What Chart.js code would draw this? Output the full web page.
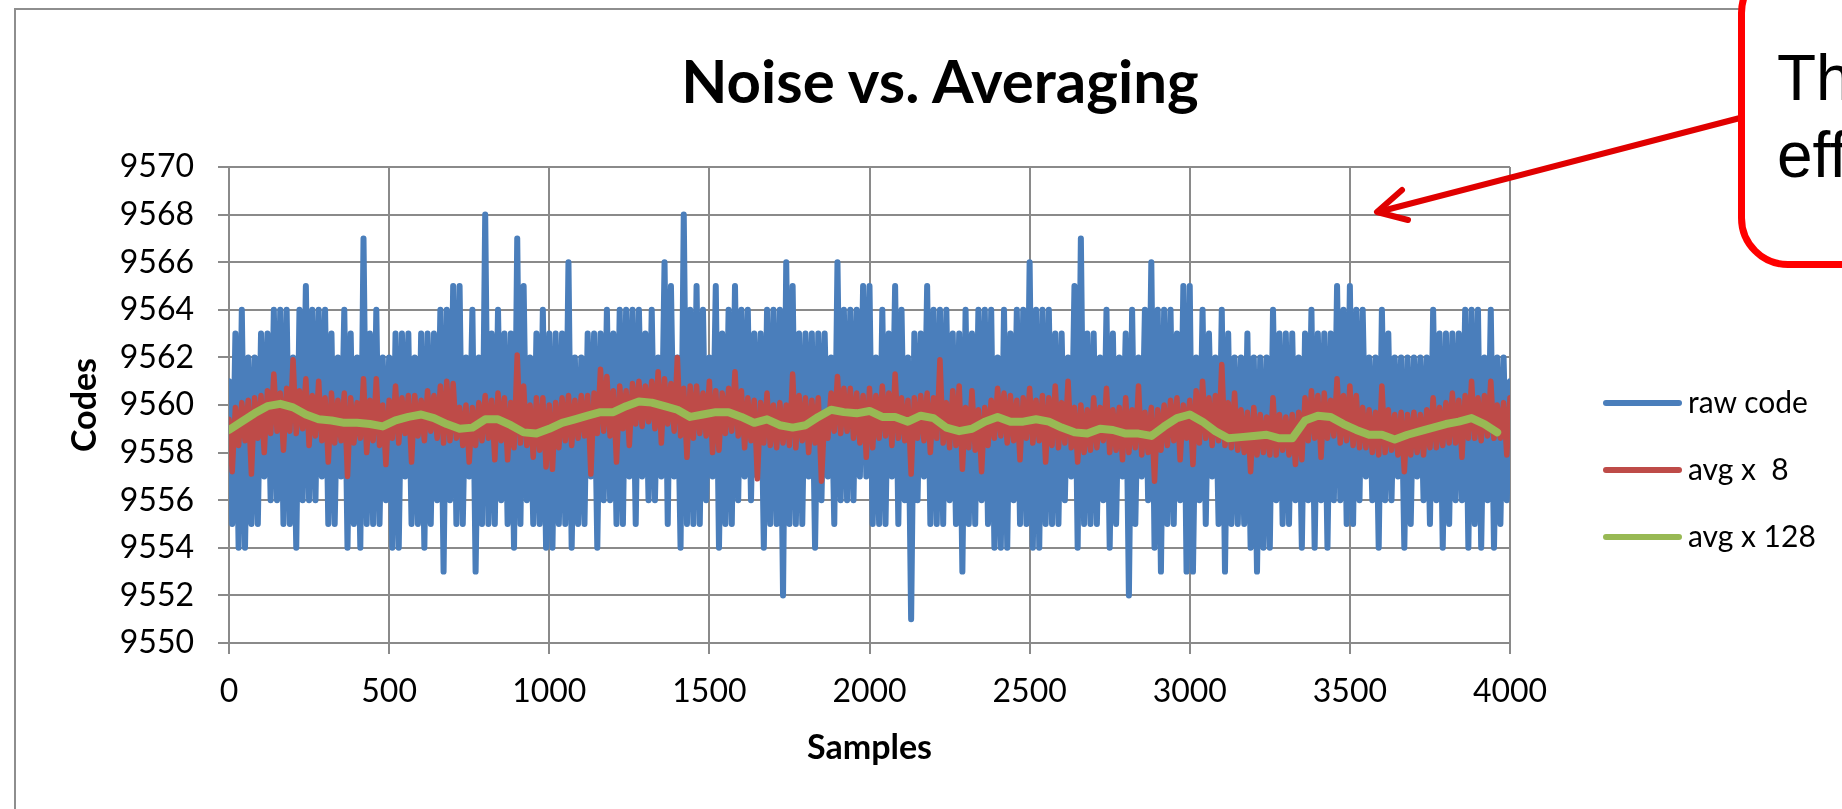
<!DOCTYPE html>
<html>
<head>
<meta charset="utf-8">
<title>Noise vs. Averaging</title>
<script src="https://cdn.jsdelivr.net/npm/chart.js@4.4.1/dist/chart.umd.min.js"></script>
<style>
  html, body { margin: 0; padding: 0; background: #fff; overflow: hidden; }
  #page { position: relative; width: 1842px; height: 809px; overflow: hidden; font-family: Lato, sans-serif; }
  #frame { position: absolute; left: 14px; top: 8px; width: 2000px; height: 1000px; border: 2px solid #8e8e8e; }
  #chart { position: absolute; left: 0; top: 0; }
  #arrow { position: absolute; left: 0; top: 0; }
  #title { position: absolute; left: 0; top: 50px; width: 1880px; text-align: center;
           font: bold 60px Lato, sans-serif; line-height: 1; color: #000; }
  .leg-line { position: absolute; left: 1603px; width: 79px; height: 6px; border-radius: 3px; }
  .leg-text { position: absolute; left: 1688px; font: 30px Lato, sans-serif; line-height: 1; white-space: pre; color: #000; }
  #callout { position: absolute; left: 1738px; top: -37px; width: 400px; height: 305px; box-sizing: border-box;
             border: 7px solid #ff0000; border-radius: 50px; background: #fff; }
  #callout-text { position: absolute; left: 1777px; top: 40px; font: 64px "Liberation Sans", Arial, sans-serif;
                  line-height: 77px; color: #000; white-space: pre; }
</style>
</head>
<body>
<div id="page">
  <div id="frame"></div>
  <canvas id="chart" width="1842" height="809"></canvas>
  <svg id="arrow" width="1842" height="809">
    <g stroke="#e00000" stroke-width="6" stroke-linecap="round" stroke-linejoin="round" fill="none">
      <line x1="1740" y1="118" x2="1378" y2="212"/>
      <polyline points="1402,190 1377,212 1408,220"/>
    </g>
  </svg>
  <div id="callout"></div>
  <div id="callout-text">Th
eff</div>
  <div id="title">Noise vs. Averaging</div>
  <div class="leg-line" style="top:400px;background:#4a7ebb"></div>
  <div class="leg-text" style="top:386px">raw code</div>
  <div class="leg-line" style="top:467px;background:#be4b48"></div>
  <div class="leg-text" style="top:453px">avg x  8</div>
  <div class="leg-line" style="top:534px;background:#98b954"></div>
  <div class="leg-text" style="top:520px">avg x 128</div>
</div>
<script>
// raw code, one reading every 10 samples
const rawStep = 10;
const rawCode = [
  9561,9555,9563,9554,9564,9554,9562,9555,9562,9555,
  9563,9557,9563,9556,9564,9556,9564,9555,9564,9555,
  9562,9554,9564,9556,9565,9556,9564,9556,9564,9557,
  9564,9555,9563,9555,9562,9557,9564,9554,9563,9555,
  9562,9554,9567,9555,9563,9555,9564,9555,9562,9556,
  9562,9554,9563,9554,9563,9557,9563,9555,9562,9555,
  9563,9554,9563,9555,9563,9556,9564,9553,9564,9556,
  9565,9555,9565,9555,9562,9557,9564,9553,9562,9555,
  9568,9555,9563,9555,9564,9556,9563,9555,9563,9554,
  9567,9555,9565,9556,9562,9555,9563,9555,9564,9554,
  9563,9554,9563,9555,9563,9555,9566,9554,9562,9555,
  9562,9555,9563,9557,9563,9554,9563,9556,9564,9556,
  9563,9555,9564,9555,9564,9557,9564,9555,9564,9557,
  9563,9556,9564,9556,9562,9557,9566,9555,9565,9557,
  9562,9554,9568,9555,9564,9555,9565,9555,9564,9556,
  9562,9557,9565,9554,9563,9555,9564,9555,9565,9556,
  9564,9557,9564,9556,9563,9557,9563,9554,9564,9555,
  9564,9555,9564,9552,9566,9555,9565,9555,9563,9555,
  9563,9557,9563,9554,9563,9556,9563,9557,9562,9555,
  9566,9556,9564,9556,9564,9556,9564,9557,9565,9557,
  9565,9555,9562,9555,9564,9555,9563,9557,9565,9555,
  9564,9556,9562,9551,9563,9556,9563,9557,9565,9555,
  9564,9555,9564,9555,9564,9556,9563,9555,9563,9553,
  9564,9555,9563,9555,9564,9556,9564,9555,9564,9554,
  9562,9554,9564,9554,9563,9556,9564,9555,9564,9555,
  9566,9554,9564,9554,9564,9555,9564,9555,9563,9555,
  9563,9556,9562,9557,9565,9554,9567,9555,9563,9555,
  9563,9555,9562,9556,9564,9554,9563,9555,9562,9557,
  9563,9552,9564,9555,9562,9557,9564,9556,9566,9554,
  9564,9553,9564,9555,9564,9555,9563,9556,9565,9553,
  9565,9553,9562,9556,9564,9555,9563,9557,9562,9555,
  9564,9553,9563,9555,9562,9555,9562,9555,9563,9554,
  9562,9553,9562,9554,9562,9554,9564,9556,9563,9555,
  9563,9555,9563,9556,9562,9554,9563,9556,9564,9554,
  9563,9556,9563,9554,9563,9556,9565,9556,9564,9555,
  9565,9555,9564,9556,9564,9557,9562,9556,9562,9554,
  9564,9556,9563,9556,9562,9557,9562,9554,9562,9555,
  9562,9557,9562,9556,9562,9555,9564,9556,9563,9554,
  9563,9555,9563,9556,9563,9556,9564,9554,9564,9555,
  9564,9554,9562,9556,9564,9554,9562,9555,9562,9556,
  9561
];

// running average of 8, same sample spacing
const avg8 = [
  9559.4,9557.2,9559.9,9558.3,9560.1,9558.5,9560.2,9557.1,9560.3,9558.6,
  9560.4,9558.0,9560.6,9558.8,9561.3,9558.9,9560.5,9558.1,9560.7,9558.9,
  9561.9,9558.8,9560.6,9559.0,9561.1,9558.3,9560.4,9558.7,9561.0,9558.5,
  9560.3,9557.6,9560.5,9558.4,9560.2,9558.5,9560.5,9557.0,9560.3,9558.4,
  9560.1,9558.6,9561.1,9558.0,9560.2,9558.5,9561.1,9558.3,9560.0,9557.5,
  9560.2,9558.6,9560.8,9558.4,9560.3,9558.8,9560.4,9557.6,9560.4,9558.7,
  9560.2,9558.5,9560.6,9558.9,9560.4,9558.6,9560.8,9558.4,9561.0,9558.5,
  9560.9,9558.6,9559.9,9558.3,9560.0,9557.6,9559.9,9558.3,9560.1,9558.5,
  9560.4,9558.6,9560.2,9557.7,9560.5,9558.5,9560.3,9557.7,9560.1,9558.2,
  9562.1,9558.4,9560.8,9558.3,9560.0,9557.8,9560.3,9558.1,9560.3,9557.4,
  9560.0,9557.3,9560.1,9558.2,9560.3,9558.5,9560.4,9558.3,9560.2,9558.6,
  9560.4,9558.7,9560.4,9557.1,9560.5,9558.8,9561.5,9558.9,9561.2,9558.7,
  9560.6,9557.6,9560.8,9559.0,9560.6,9558.3,9560.9,9559.2,9561.0,9559.1,
  9560.8,9559.3,9561.0,9559.0,9561.4,9558.4,9561.1,9559.2,9560.9,9558.9,
  9562.0,9558.7,9560.7,9557.8,9560.8,9558.6,9560.8,9558.8,9560.5,9558.7,
  9561.0,9558.0,9560.6,9558.1,9560.5,9558.8,9560.7,9558.9,9561.4,9558.7,
  9560.6,9558.2,9560.3,9558.5,9560.2,9556.9,9560.1,9558.4,9560.5,9558.3,
  9560.0,9558.2,9560.1,9558.4,9560.0,9558.3,9561.3,9558.2,9560.4,9558.5,
  9560.3,9558.0,9560.2,9558.4,9560.3,9556.8,9559.6,9558.6,9560.5,9558.9,
  9561.2,9558.8,9560.7,9558.9,9560.7,9558.6,9560.5,9558.4,9560.4,9557.8,
  9560.7,9558.2,9560.4,9558.6,9560.8,9558.7,9560.5,9558.3,9561.3,9558.6,
  9560.3,9558.5,9560.2,9557.1,9560.3,9558.6,9560.4,9558.5,9560.5,9558.0,
  9560.3,9558.6,9561.9,9558.4,9560.1,9558.2,9560.6,9558.3,9560.8,9557.3,
  9559.9,9558.2,9560.6,9558.1,9559.8,9557.2,9559.9,9558.3,9560.2,9558.6,
  9560.7,9558.7,9560.5,9558.4,9560.4,9558.5,9560.2,9557.7,9560.3,9558.6,
  9560.7,9558.4,9560.2,9558.5,9560.4,9557.6,9560.3,9558.3,9560.8,9558.2,
  9560.1,9558.4,9561.0,9558.2,9559.9,9557.6,9560.0,9558.0,9559.8,9558.1,
  9560.3,9558.2,9559.9,9558.5,9560.7,9558.0,9559.8,9558.1,9559.9,9557.7,
  9560.3,9558.0,9559.8,9558.2,9560.8,9557.9,9559.7,9558.0,9559.9,9556.8,
  9559.8,9558.1,9560.0,9558.3,9560.2,9558.5,9560.3,9557.7,9560.0,9558.6,
  9560.2,9557.5,9560.6,9558.4,9561.0,9558.6,9560.3,9558.3,9560.4,9558.5,
  9561.7,9558.3,9560.1,9558.2,9560.5,9558.1,9559.8,9558.0,9559.7,9557.2,
  9559.9,9557.9,9559.6,9558.0,9559.5,9557.9,9560.3,9557.9,9559.6,9558.1,
  9559.5,9557.9,9559.6,9557.5,9559.7,9557.7,9560.3,9558.5,9560.6,9558.6,
  9560.4,9557.8,9560.5,9558.6,9560.2,9558.7,9561.1,9558.4,9560.4,9558.5,
  9560.8,9558.3,9560.4,9558.2,9559.9,9558.2,9559.8,9558.0,9559.7,9557.9,
  9560.8,9558.0,9559.8,9558.1,9559.6,9557.9,9559.7,9557.2,9559.6,9557.9,
  9559.7,9558.0,9559.6,9557.9,9559.8,9558.2,9560.3,9558.2,9559.9,9558.3,
  9560.1,9558.4,9560.5,9558.4,9560.2,9557.8,9560.4,9558.6,9561.0,9558.6,
  9560.3,9558.5,9560.4,9558.7,9561.0,9558.6,9560.0,9558.6,9560.1,9557.9,
  9560.3
];

// running average of 128, one reading every 40 samples
const avgStep = 40;
const avg128 = [
  9558.95,9559.3,9559.65,9559.95,9560.05,9559.9,9559.6,9559.4,9559.35,9559.25,
  9559.25,9559.2,9559.1,9559.35,9559.5,9559.6,9559.45,9559.2,9559.0,9559.05,
  9559.4,9559.4,9559.15,9558.85,9558.8,9559.0,9559.25,9559.4,9559.55,9559.7,
  9559.7,9559.95,9560.15,9560.1,9559.95,9559.8,9559.5,9559.6,9559.7,9559.7,
  9559.5,9559.25,9559.4,9559.15,9559.05,9559.15,9559.5,9559.8,9559.7,9559.65,
  9559.75,9559.5,9559.5,9559.3,9559.55,9559.45,9559.05,9558.9,9559.0,9559.3,
  9559.5,9559.3,9559.3,9559.4,9559.3,9559.05,9558.85,9558.8,9559.0,9558.95,
  9558.8,9558.8,9558.7,9559.1,9559.45,9559.6,9559.3,9558.9,9558.6,9558.65,
  9558.7,9558.75,9558.6,9558.6,9559.35,9559.55,9559.5,9559.2,9558.95,9558.75,
  9558.75,9558.55,9558.75,9558.9,9559.05,9559.2,9559.3,9559.45,9559.2,9558.85
];

const xTicksMax = 4000;
const yMin = 9550, yMax = 9570;

const family = 'Lato, sans-serif';

function points(values, step) {
  return values.map((v, i) => ({ x: i * step, y: v }));
}

const ctx = document.getElementById('chart').getContext('2d');
new Chart(ctx, {
  type: 'line',
  data: {
    datasets: [
      { label: 'raw code', data: points(rawCode, rawStep), borderColor: '#4a7ebb', borderWidth: 6, order: 3 },
      { label: 'avg x  8', data: points(avg8, rawStep), borderColor: '#be4b48', borderWidth: 5.5, order: 2 },
      { label: 'avg x 128', data: points(avg128, avgStep), borderColor: '#98b954', borderWidth: 8, order: 1 }
    ]
  },
  options: {
    responsive: false,
    animation: false,
    events: [],
    layout: { padding: { top: 167, right: 332, bottom: 0, left: 0 } },
    elements: {
      point: { radius: 0 },
      line: { tension: 0, borderJoinStyle: 'round', borderCapStyle: 'round' }
    },
    plugins: {
      legend: { display: false },
      title: { display: false },
      tooltip: { enabled: false }
    },
    scales: {
      x: {
        type: 'linear', min: 0, max: xTicksMax,
        afterFit: (s) => { s.height = 166; },
        ticks: { stepSize: 500, color: '#000', font: { family, size: 32 }, padding: 18, maxRotation: 0,
                 callback: (v) => String(v) },
        grid: { color: '#8a8a8a', lineWidth: 2, tickLength: 11 },
        border: { color: '#8a8a8a', width: 2 },
        title: { display: true, text: 'Samples', color: '#000',
                 font: { family, size: 34, weight: 'bold' }, padding: { top: 0, bottom: 41 } }
      },
      y: {
        min: yMin, max: yMax,
        afterFit: (s) => { s.width = 229; },
        ticks: { stepSize: 2, color: '#000', font: { family, size: 32 }, padding: 24,
                 callback: (v) => String(v) },
        grid: { color: '#8a8a8a', lineWidth: 2, tickLength: 11 },
        border: { color: '#8a8a8a', width: 2 },
        title: { display: true, text: 'Codes', color: '#000',
                 font: { family, size: 34, weight: 'bold' }, padding: { top: 65, bottom: 0 } }
      }
    }
  }
});
</script>
</body>
</html>
